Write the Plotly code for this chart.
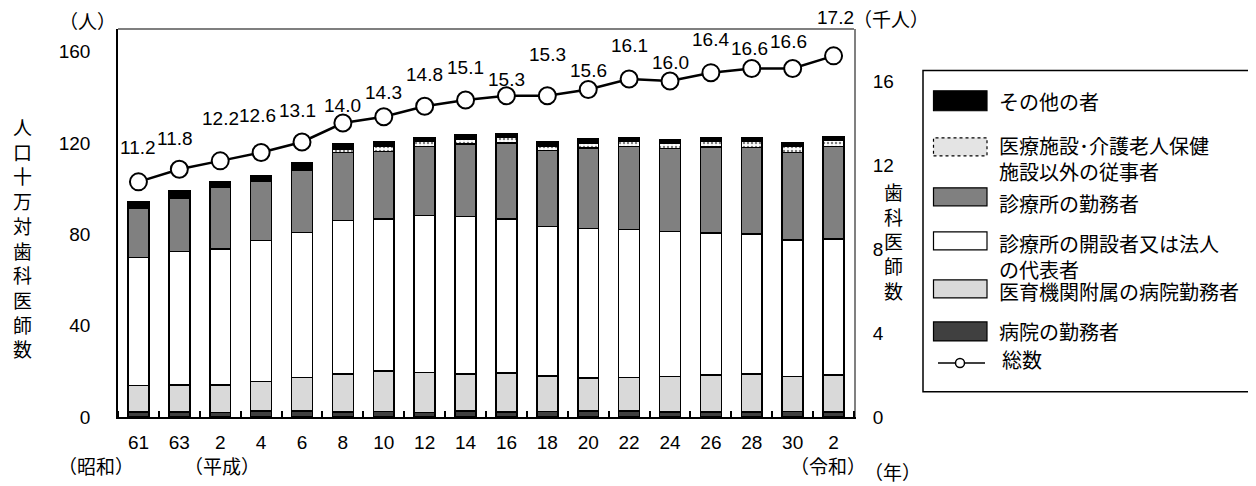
import plotly.graph_objects as go

# ---------------- data ----------------
categories = ["61", "63", "2", "4", "6", "8", "10", "12", "14", "16",
              "18", "20", "22", "24", "26", "28", "30", "2"]

hospital = [2.3, 2.3, 2.0, 2.7, 2.7, 2.3, 2.5, 2.0, 2.7, 2.3, 2.5, 2.7, 2.7, 2.3, 2.3, 2.3, 2.5, 2.3]
edu_hospital = [11.4, 11.7, 12.0, 12.8, 14.7, 16.6, 17.7, 17.6, 16.2, 16.9, 15.5, 14.3, 14.7, 15.4, 16.0, 16.6, 15.2, 16.0]
clinic_owner = [56.2, 58.5, 59.7, 61.9, 63.4, 67.2, 66.6, 68.6, 69.0, 67.6, 65.5, 65.6, 64.8, 63.6, 62.3, 61.2, 59.9, 59.6]
clinic_staff = [21.6, 23.4, 26.9, 25.7, 27.5, 29.8, 29.6, 30.4, 31.7, 33.2, 33.2, 35.2, 36.4, 36.4, 37.7, 38.0, 38.3, 40.7]
non_medical = [0.0, 0.7, 0.0, 0.0, 0.7, 1.6, 2.2, 2.1, 2.2, 2.5, 1.9, 2.2, 2.1, 2.2, 2.6, 2.8, 2.8, 2.8]
others = [2.9, 2.5, 2.5, 2.7, 2.3, 2.1, 2.0, 1.8, 1.7, 1.6, 1.9, 1.8, 1.5, 1.5, 1.6, 1.5, 1.6, 1.5]
total_thousand = [11.2, 11.8, 12.2, 12.6, 13.1, 14.0, 14.3, 14.8, 15.1, 15.3, 15.3, 15.6, 16.1, 16.0, 16.4, 16.6, 16.6, 17.2]

names = ["病院の勤務者", "医育機関附属の病院勤務者", "診療所の開設者又は法人の代表者",
         "診療所の勤務者", "医療施設･介護老人保健施設以外の従事者", "その他の者", "総数"]

# ---------------- styles ----------------
PAGE_W, PAGE_H = 1256, 486
OX, OY = 8, 8                              # default page body margin
W, H = PAGE_W - OX, PAGE_H - OY
L, R, T, B = 118, 854, 29.3, 417          # plot area in window pixels
FONT = "Liberation Sans, Noto Sans CJK JP, sans-serif"
FS = 19
LEG_FS = 20

def px(xp):
    return (xp - L) / (R - L)

def py(yp):
    return (B - yp) / (B - T)

dot_pattern = dict(shape=".", fgcolor="black", bgcolor="white", size=4, solidity=0.3)
bar_styles = [
    dict(color="#404040"),
    dict(color="#d9d9d9"),
    dict(color="#ffffff"),
    dict(color="#808080"),
    dict(color="#ffffff", pattern=dot_pattern),
    dict(color="#000000"),
]
# label offsets (pixels) for the total labels, as placed in the original
label_yshift = [34, 31, 42, 37, 31, 18, 24, 32, 32, 16, 41, 19, 33, 19, 33, 20, 27, 38]
label_xshift = [0, -4, 0, -4, -5, 0, 0, 0, 0, 0, 0, 0, 0, 0, 0, -2, -4, 2]

n = len(categories)
xs = list(range(n))
bar_series = [hospital, edu_hospital, clinic_owner, clinic_staff, non_medical, others]

fig = go.Figure()
for name, vals, st in zip(names[:6], bar_series, bar_styles):
    marker = dict(st)
    marker["line"] = dict(color="black", width=1.5)
    fig.add_trace(go.Bar(x=xs, y=vals, name=name, marker=marker, width=0.51,
                         showlegend=False))

fig.add_trace(go.Scatter(
    x=xs, y=total_thousand, name=names[6], yaxis="y2", mode="lines+markers",
    line=dict(color="black", width=2.5),
    marker=dict(symbol="circle", size=17, color="white", line=dict(color="black", width=2)),
    showlegend=False, cliponaxis=False))

annotations = []
for i, v in enumerate(total_thousand):
    annotations.append(dict(x=i, y=v, xref="x", yref="y2", text=f"{v:.1f}",
                            showarrow=False, yshift=label_yshift[i], xshift=label_xshift[i],
                            font=dict(size=FS), xanchor="center", yanchor="middle"))

def txt(text, xp, yp, xanchor="center", size=FS):
    annotations.append(dict(x=px(xp), y=py(yp), xref="paper", yref="paper", text=text,
                            showarrow=False, xanchor=xanchor, yanchor="middle",
                            align="left" if xanchor == "left" else "center",
                            font=dict(size=size)))

# axis titles / units
txt("<br>".join(list("人口十万対歯科医師数")), 22, 240)
txt("<br>".join(list("歯科医師数")), 893, 243)
txt("（人）", 87.5, 23)
txt("（千人）", 891, 21)
txt("（昭和）", 95.5, 467)
txt("（平成）", 221.5, 467)
txt("（令和）", 828, 467)
txt("（年）", 892, 473)

shapes = []
# top frame line
shapes.append(dict(type="line", xref="paper", yref="paper", x0=0, x1=1, y0=1, y1=1,
                   line=dict(color="black", width=1.2)))

# ---------------- custom legend ----------------
shapes.append(dict(type="rect", xref="paper", yref="paper",
                   x0=px(923), x1=px(1254.5), y0=py(391.7), y1=py(70.7),
                   line=dict(color="black", width=1.5), fillcolor="white", layer="below"))

legend_rows = [  # (series index, swatch top, swatch bottom, text centre y, label)
    (5, 91, 111, 103, names[5]),
    (4, 138, 156, 160.5, "医療施設･介護老人保健<br>施設以外の従事者"),
    (3, 188, 206, 205, names[3]),
    (2, 232, 250, 258, "診療所の開設者又は法人<br>の代表者"),
    (1, 280, 298, 293, names[1]),
    (0, 322, 341, 333, names[0]),
]
for idx, y0, y1, yc, label in legend_rows:
    st = bar_styles[idx]
    is_dot = "pattern" in st
    shapes.append(dict(type="rect", xref="paper", yref="paper",
                       x0=px(933.5), x1=px(987), y0=py(y1), y1=py(y0),
                       fillcolor="#e4e4e4" if is_dot else st["color"],
                       line=dict(color="black", width=1.2, dash="dot" if is_dot else "solid")))
    txt(label, 997, yc, xanchor="left", size=LEG_FS)

shapes.append(dict(type="line", xref="paper", yref="paper", x0=px(938), x1=px(985),
                   y0=py(363), y1=py(363), line=dict(color="black", width=1.5)))
shapes.append(dict(type="circle", xref="paper", yref="paper", x0=px(955.5), x1=px(964.5),
                   y0=py(367.5), y1=py(358.5), fillcolor="white",
                   line=dict(color="black", width=1.5)))
txt(names[6], 1000, 361, xanchor="left", size=LEG_FS)

fig.update_layout(
    width=W, height=H,
    margin=dict(l=L - OX, r=PAGE_W - R, t=T - OY, b=PAGE_H - B, pad=0),
    barmode="stack",
    plot_bgcolor="white", paper_bgcolor="white",
    font=dict(family=FONT, size=FS, color="black"),
    showlegend=False,
    xaxis=dict(range=[-0.5, n - 0.5], tickmode="array", tickvals=xs, ticktext=categories,
               ticks="", showline=True, linecolor="black", linewidth=2, showgrid=False,
               zeroline=False, ticklabelstandoff=7, fixedrange=True,
               minor=dict(tickmode="array", tickvals=[i + 0.5 for i in range(-1, n)],
                          ticks="inside", ticklen=6, tickwidth=1.5, tickcolor="black",
                          showgrid=False)),
    yaxis=dict(range=[0, 170], tickmode="array", tickvals=[0, 40, 80, 120, 160],
               showline=True, linecolor="black", linewidth=1.5, showgrid=False,
               zeroline=False, ticks="", ticklabelstandoff=22),
    yaxis2=dict(range=[0, 18.48], overlaying="y", side="right", tickmode="array",
                tickvals=[0, 4, 8, 12, 16], showline=True, linecolor="#808080",
                linewidth=2, showgrid=False, zeroline=False, ticks="",
                ticklabelstandoff=13),
    annotations=annotations,
    shapes=shapes,
)

fig.write_html("out.html")
